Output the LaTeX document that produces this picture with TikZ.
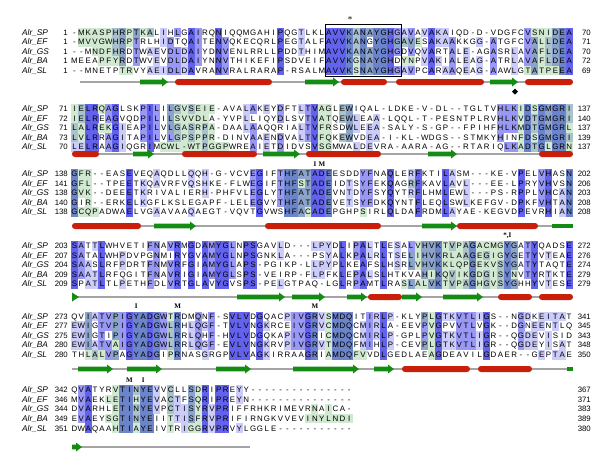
\documentclass[tikz,border=0pt]{standalone}
\usepackage{fontspec}
\setmainfont{Liberation Sans}
\newfontfamily\lblfont{Liberation Serif}
\definecolor{cDn}{RGB}{98,98,236}
\definecolor{cMn}{RGB}{153,153,245}
\definecolor{cLn}{RGB}{204,204,250}
\definecolor{cNg}{RGB}{209,233,209}
\definecolor{cLg}{RGB}{170,194,201}
\definecolor{cMg}{RGB}{140,164,201}
\definecolor{cDg}{RGB}{108,132,201}
\definecolor{helixc}{RGB}{200,30,10}
\definecolor{strandc}{RGB}{20,140,20}
\definecolor{ssgrey}{RGB}{165,165,165}
\newcount\colno
\newcount\mcount
\def\gmark{g}
\def\gapch{-}
\def\nofillc{cNn}
\def\storeloop#1#2{%
  \ifx\relax#2\let\seqnext\relax
  \else
    \global\advance\colno by 1
    \expandafter\gdef\csname #1-\the\colno\endcsname{#2}%
    \def\seqnext{\storeloop{#1}}%
  \fi
  \seqnext}
\newcommand\setseq[3]{\global\colno=0 \storeloop{S#1-#2}#3\relax}
\newcommand\setgreen[3]{\foreach \ga/\gb in {#3}{\foreach \gx in {\ga,...,\gb}{\expandafter\gdef\csname G#1-#2-\gx\endcsname{g}}}}
\newcommand\drawblock[4]{%
  \foreach \cc in {1,...,#4}{%
    \pgfmathsetmacro\cx{74.5+(\cc-1)*6.87}%
    \foreach \rr in {1,...,5}{%
      \edef\cur{\csname S#1-\rr-\cc\endcsname}%
      \global\mcount=0
      \foreach \kk in {1,...,5}{%
        \edef\oth{\csname S#1-\kk-\cc\endcsname}%
        \ifx\cur\oth\global\advance\mcount by 1\fi}%
      \ifx\cur\gapch\def\lev{N}%
      \else\ifcase\mcount\def\lev{N}\or\def\lev{N}\or\def\lev{N}\or\def\lev{L}\or\def\lev{M}\or\def\lev{D}\else\def\lev{N}\fi
      \fi
      \expandafter\ifx\csname G#1-\rr-\cc\endcsname\gmark\def\gfl{g}\else\def\gfl{n}\fi
      \edef\cellc{c\lev\gfl}%
      \pgfmathsetmacro\cy{#2+(\rr-1)*#3}%
      \ifx\cellc\nofillc\else\fill[fill=\cellc] (\cx-3.5,\cy-4.8) rectangle (\cx+3.5,\cy+4.8);\fi
      \node[res] at (\cx,\cy) {\cur};
    }%
  }%
}
\newcommand\blocklabels[3]{%
  \foreach \sn/\en/\nm [count=\ii] in {#3}{%
    \pgfmathsetmacro\yy{#1+(\ii-1)*#2}%
    \node[namec] at (22,\yy) {Alr\_\nm};
    \node[numc, anchor=east] at (68,\yy) {\sn};
    \node[numc, anchor=east] at (591,\yy) {\en};}}
\newcommand\helix[3]{\fill[helixc, rounded corners=2.9pt] (#2,#1-3) rectangle (#3,#1+3);}
\newcommand\strand[3]{\fill[strandc] (#2,#1-2.3) -- (#3-6,#1-2.3) -- (#3-6,#1-4.5) -- (#3,#1) -- (#3-6,#1+4.5) -- (#3-6,#1+2.3) -- (#2,#1+2.3) -- cycle;}
\newcommand\sbody[3]{\fill[strandc] (#2,#1-2.3) rectangle (#3,#1+2.3);}
\newcommand\shead[3]{\fill[strandc] (#2,#1-4.5) -- (#3,#1) -- (#2,#1+4.5) -- cycle;}
\newcommand\ssline[3]{\draw[ssgrey, line width=1.2pt] (#2,#1) -- (#3,#1);}
\begin{document}
\begin{tikzpicture}[x=1pt,y=-1pt,
  res/.style={font=\fontsize{7.9}{8}\selectfont, inner sep=0pt, text height=5.6pt, text depth=0pt},
  namec/.style={font=\fontsize{8.3}{8}\selectfont\itshape, anchor=west, inner sep=0pt, text height=5.6pt, text depth=0pt},
  numc/.style={font=\fontsize{7.8}{8}\selectfont, inner sep=0pt, text height=5.6pt, text depth=0pt},
  lab/.style={font=\lblfont\bfseries\fontsize{7}{7}\selectfont, inner sep=0pt}]
\useasboundingbox (0,0) rectangle (600,464);
\fill[white] (0,0) rectangle (600,464);
% ---------- sequences ----------
\setseq{1}{1}{-MKASPHRPTKALIHLGAIRQNIQQMGAHIPQGTLKLAVVKANAYGHGAVAVAKAIQD-D-VDGFCVSNIDEA}
\setseq{1}{2}{-MVVGWHRPTRLHIDTQAITENVQKECQRLPEGTALFAVVKANGYGHGAVESAKAAKKGG-ATGFCVALLDEA}
\setseq{1}{3}{--MNDFHRDTWAEVDLDAIYDNVENLRRLLPDDTHIMAVVKANAYGHGDVQVARTALE-AGASRLAVAFLDEA}
\setseq{1}{4}{MEEAPFYRDTWVEVDLDAIYNNVTHIKEFIPSDVEIFAVVKGNAYGHDYNPVAKIALEAG-ATRLAVAFLDEA}
\setseq{1}{5}{--MNETPTRVYAEIDLDAVRANVRALRARAP-RSALMAVVKSNAYGHGAVPCARAAQEAG-AAWLGTATPEEA}
\setseq{2}{1}{IELRQAGLSKPILILGVSEIE-AVALAKEYDFTLTVAGLEWIQAL-LDKE-V-DL--TGLTVHLKIDSGMGRI}
\setseq{2}{2}{IELREAGVQDPILILSVVDLA-YVPLLIQYDLSVTVATQEWLEAA-LQQL-T-PESNTPLRVHLKVDTGMGRI}
\setseq{2}{3}{LALREKGIEAPILVLGASRPA-DAALAAQQRIALTVFRSDWLEEA-SALY-S-GP--FPIHFHLKMDTGMGRL}
\setseq{2}{4}{LVLRRAGITAPILVLGPSPPR-DINVAAENDVALTVFQKEWVDEA-I-KL-WDGS--STMKYHINFDSGMGRI}
\setseq{2}{5}{LELRAAGIQGRIMCWL-WTPGGPWREAIETDIDVSVSGMWALDEVRA-AARA-AG--RTARIQLKADTGLGRN}
\setseq{3}{1}{GFR--EASEVEQAQDLLQQH-G-VCVEGIFTHFATADEESDDYFNAQLERFKTILASM---KE-VPELVHASN}
\setseq{3}{2}{GFL--TPEETKQAVRFVQSHKE-FLWEGIFTHFSTADEIDTSYFEKQAGRFKAVLAVL---EE-LPRYVHVSN}
\setseq{3}{3}{GVK--DEEETKRIVALIERH-PHFVLEGLYTHFATADEVNTDYFSYQYTRFLHMLEWL---PS-RPPLVHCAN}
\setseq{3}{4}{GIR--ERKELKGFLKSLEGAPF-LELEGVYTHFATADEVETSYFDKQYNTFLEQLSWLKEFGV-DPKFVHTAN}
\setseq{3}{5}{GCQPADWAELVGAAVAAQAEGT-VQVTGVWSHFACADEPGHPSIRLQLDAFRDMLAYAE-KEGVDPEVRHIAN}
\setseq{4}{1}{SATTLWHVETIFNAVRMGDAMYGLNPSGAVLD---LPYDLIPALTLESALVHVKTVPAGACMGYGATYQADSE}
\setseq{4}{2}{SATALWHPDVPGNMIRYGVAMYGLNPSGNKLA---PSYALKPALRLTSELIHVKRLAAGEGIGYGETYVTEAE}
\setseq{4}{3}{SAASLRFPDRTFNMVRFGIAMYGLAPS-PGIKP-LLPYPLKEAFSLHSRLVHVKKLQPGEKVSYGATYTAQTE}
\setseq{4}{4}{SAATLRFQGITFNAVRIGIAMYGLSPS-VEIRP-FLPFKLEPALSLHTKVAHIKQVIKGDGISYNVTYRTKTE}
\setseq{4}{5}{SPATLTLPETHFDLVRTGLAVYGVSPS-PELGTPAQ-LGLRPAMTLRASLALVKTVPAGHGVSYGHHYVTESE}
\setseq{5}{1}{QVIATVPIGYADGWTRDMQNF-SVLVDGQACPIVGRVSMDQITIRLP-KLYPLGTKVTLIGS--NGDKEITAT}
\setseq{5}{2}{EWIGTVPIGYADGWLRHLQGF-TVLVNGKRCEIVGRVCMDQCMIRLA-EEVPVGPVVTLVGK--DGNEENTLQ}
\setseq{5}{3}{EWIGTIPIGYADGWLRRLQHF-HVLVDGQKAPIVGRICMDQCMIRLP-GPLPVGTKVTLIGR--QGDEVISID}
\setseq{5}{4}{EWIATVAIGYADGWLRRLQGF-EVLVNGKRVPIVGRVTMDQFMIHLP-CEVPLGTKVTLIGR--QGDEYISAT}
\setseq{5}{5}{THLALVPAGYADGIPRNASGRGPVLVAGKIRRAAGRIAMDQFVVDLGEDLAEAGDEAVILGDAER--GEPTAE}
\setseq{6}{1}{QVATYRVTINYEVVCLLSDRIPREYY---------------}
\setseq{6}{2}{MVAEKLETIHYEVACTFSQRIPREYN---------------}
\setseq{6}{3}{DVARHLETINYEVPCTISYRVPRIFFRHKRIMEVRNAICA-}
\setseq{6}{4}{EVAEYSGTINYEIITTISFRVPRIFIRNGKVVEVINYLNDI}
\setseq{6}{5}{DWAQAAHTIAYEIVTRIGGRVPRVYLGGLE-----------}
% ---------- green overlay ----------
\setgreen{1}{1}{2/12,41/46,68/72}
\setgreen{1}{2}{2/9,41/43,45/46,48/51,68/72}
\setgreen{1}{3}{4/8,41/46,68/72}
\setgreen{1}{4}{5/8,41/46,49/50,68/72}
\setgreen{1}{5}{8/9,41/46,67/72}
\setgreen{2}{1}{1/2,5/5,15/21,37/38,40/41,66/73}
\setgreen{2}{2}{1/2,15/20,37/38,40/41,66/73}
\setgreen{2}{3}{1/2,5/6,15/21,37/38,41/41,66/73}
\setgreen{2}{4}{1/2,16/21,37/38,40/41,66/73}
\setgreen{2}{5}{14/23,37/38,66/73}
\setgreen{3}{1}{1/3,32/35,38/38,73/73}
\setgreen{3}{2}{1/3,32/35,38/38,50/50,73/73}
\setgreen{3}{3}{1/3,32/35,38/38,73/73}
\setgreen{3}{4}{1/1,3/3,32/35,38/38,73/73}
\setgreen{3}{5}{1/4,32/35,38/38,43/43,73/73}
\setgreen{4}{1}{51/65}
\setgreen{4}{2}{50/65}
\setgreen{4}{3}{50/65}
\setgreen{4}{4}{52/65}
\setgreen{4}{5}{49/65}
\setgreen{5}{1}{3/3,7/7,10/11,13/13,15/16,36/36,38/41,52/53}
\setgreen{5}{2}{3/3,7/7,10/11,13/13,15/16,36/36,38/41,53/53}
\setgreen{5}{3}{3/3,7/7,10/11,13/13,15/16,36/36,38/41,53/53}
\setgreen{5}{4}{3/3,7/7,10/11,13/13,15/16,36/36,38/41,52/53}
\setgreen{5}{5}{3/5,7/7,10/11,13/13,15/16,36/36,38/43,53/53}
\setgreen{6}{1}{7/12,15/15,18/19}
\setgreen{6}{2}{6/12,15/15,18/19}
\setgreen{6}{3}{7/12,15/15,18/19,36/36,38/38}
\setgreen{6}{4}{6/12,15/15,18/19,35/41}
\setgreen{6}{5}{7/12,15/15,18/19}
% ---------- blocks ----------
\drawblock{1}{32.3}{9.5}{73}
\drawblock{2}{109.1}{9.4}{73}
\drawblock{3}{174.1}{9.5}{73}
\drawblock{4}{245.7}{9.6}{73}
\drawblock{5}{316.3}{9.6}{73}
\drawblock{6}{390}{9.55}{41}
\blocklabels{32.3}{9.5}{1/70/SP,1/71/EF,1/70/GS,1/72/BA,1/69/SL}
\blocklabels{109.1}{9.4}{71/137/SP,72/140/EF,71/137/GS,73/139/BA,70/137/SL}
\blocklabels{174.1}{9.5}{138/202/SP,141/206/EF,138/203/GS,140/208/BA,138/208/SL}
\blocklabels{245.7}{9.6}{203/272/SP,207/276/EF,204/274/GS,209/279/BA,209/279/SL}
\blocklabels{316.3}{9.6}{273/341/SP,277/345/EF,275/343/GS,280/348/BA,280/350/SL}
\blocklabels{390}{9.55}{342/367/SP,346/371/EF,344/383/GS,349/389/BA,351/380/SL}
% ---------- annotations ----------
\draw[black, line width=0.7pt] (325.3,24) rectangle (401.3,76);
\node[lab, font=\lblfont\fontsize{9}{9}\selectfont] (star1) at (350,20) {*};
\node[lab] (lI3) at (315.0,164) {I};
\node[lab] (lM3) at (321.9,164) {M};
\node[lab] (lS4) at (507.3,235.5) {*,I};
\node[lab] (lI5) at (136.3,306.5) {I};
\node[lab] (lM5) at (177.6,306.5) {M};
\node[lab] (lM5b) at (315.0,306.5) {M};
\node[lab] (lM6) at (129.5,380.5) {M};
\node[lab] (lI6) at (143.2,380.5) {I};
% ---------- secondary structure ----------
\ssline{82}{80}{573}
\strand{82}{140}{168}
\helix{82}{175}{272}
\strand{82}{305}{339}
\helix{82}{341}{387}
\helix{82}{396}{484}
\strand{82}{490}{518}
\helix{82}{525}{573}
\fill[black] (515,88.7) -- (518,91.7) -- (515,94.7) -- (512,91.7) -- cycle;
\ssline{154}{72}{573}
\helix{154}{72}{99}
\strand{154}{133}{154}
\helix{154}{182}{257}
\strand{154}{263}{300}
\helix{154}{306}{381}
\strand{154}{428}{457}
\helix{154}{539}{573}
\ssline{226}{72}{573}
\helix{226}{72}{141}
\strand{226}{154}{196}
\helix{226}{265}{381}
\strand{226}{422}{457}
\helix{226}{457}{538}
\sbody{226}{552}{573}
\ssline{297}{72}{573}
\shead{297}{72}{79}
\strand{297}{237}{285}
\strand{297}{292}{325}
\strand{297}{347}{367}
\helix{297}{368}{402}
\strand{297}{402}{422}
\strand{297}{443}{483}
\helix{297}{498}{532}
\helix{297}{539}{573}
\ssline{369}{72}{573}
\strand{369}{78}{113}
\strand{369}{127}{162}
\strand{369}{216}{251}
\strand{369}{293}{359}
\strand{369}{374}{394}
\helix{369}{402}{470}
\helix{369}{478}{532}
\sbody{369}{567}{573}
\ssline{447}{72}{250}
\strand{447}{72}{82}
\end{tikzpicture}
\end{document}
